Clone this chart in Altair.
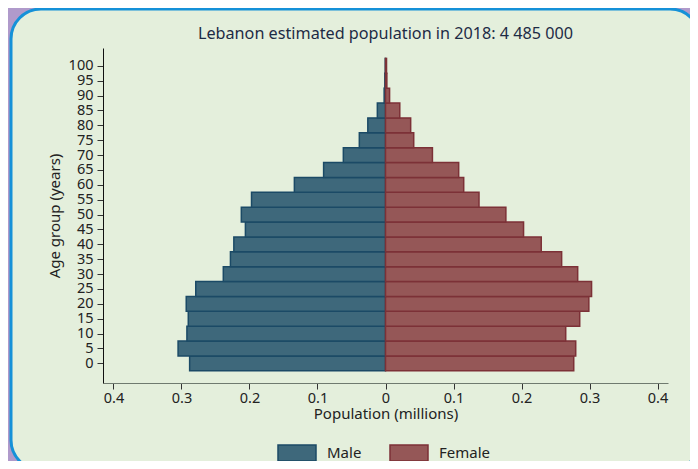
import altair as alt
import pandas as pd

ages = list(range(0, 101, 5))
male = [0.288, 0.305, 0.292, 0.290, 0.293, 0.279, 0.2385, 0.228, 0.223, 0.206,
        0.212, 0.197, 0.134, 0.091, 0.062, 0.0385, 0.026, 0.012, 0.002, 0.001, 0.0004]
female = [0.2768, 0.2797, 0.265, 0.2856, 0.299, 0.303, 0.2826, 0.259, 0.229, 0.203,
          0.177, 0.1375, 0.115, 0.1076, 0.069, 0.0415, 0.037, 0.021, 0.006, 0.002, 0.0015]
sexes = ["Male", "Female"]
x_ticks = [-0.4, -0.3, -0.2, -0.1, 0.0, 0.1, 0.2, 0.3, 0.4]
title_text = "Lebanon estimated population in 2018: 4 485 000"

rows = []
for a, m, f in zip(ages, male, female):
    rows.append({"sex": "Male", "age": a, "lo": a - 2.5, "hi": a + 2.5, "value": -m, "zero": 0})
    rows.append({"sex": "Female", "age": a, "lo": a - 2.5, "hi": a + 2.5, "value": f, "zero": 0})
df = pd.DataFrame(rows)

FONT = "Noto Sans"
TXT = "#222222"

legend = alt.Legend(
    title=None, orient="none", direction="horizontal",
    legendX=174, legendY=385,
    symbolType="M-1,-0.42H1V0.42H-1Z", symbolSize=1444, symbolStrokeWidth=1.5,
    symbolOpacity=1,
    labelFont=FONT, labelFontSize=15, labelColor=TXT, labelOffset=10,
    columnPadding=25, zindex=2,
)

bg = alt.Chart(pd.DataFrame({"d": [0]})).mark_rect(
    fill="#e4efdc", stroke="#1591d8", strokeWidth=3, cornerRadius=30
).encode(
    x=alt.value(-92), x2=alt.value(597), y=alt.value(-39), y2=alt.value(422)
)

title = alt.Chart(pd.DataFrame({"t": [title_text]})).mark_text(
    font=FONT, fontSize=16.2, color="#1d2b45", align="center", baseline="alphabetic"
).encode(x=alt.value(282.5), y=alt.value(-9), text="t:N")

bars = alt.Chart(df).mark_rect(strokeWidth=1.5, opacity=1).encode(
    x=alt.X("value:Q",
            scale=alt.Scale(domain=[-0.4154, 0.4154], nice=False, zero=False),
            axis=alt.Axis(values=x_ticks, labelExpr="format(abs(datum.value), '.1~f')",
                          title="Population (millions)", grid=False, tickSize=6,
                          labelPadding=2, titlePadding=2, domainColor="#6f7a6f",
                          tickColor="#333333", zindex=1)),
    x2="zero:Q",
    y=alt.Y("lo:Q",
            scale=alt.Scale(domain=[-6.6, 106], nice=False, zero=False),
            axis=alt.Axis(values=ages, title="Age group (years)", grid=False,
                          tickSize=6, labelPadding=4, titlePadding=6,
                          domainColor="#111111", tickColor="#333333", zindex=1)),
    y2="hi:Q",
    fill=alt.Fill("sex:N", scale=alt.Scale(domain=sexes, range=["#3e687b", "#955757"]),
                  legend=legend),
    stroke=alt.Stroke("sex:N", scale=alt.Scale(domain=sexes, range=["#1b4a66", "#7c3137"]),
                      legend=legend),
)

chart = alt.layer(bg, bars, title).properties(
    width=565, height=335,
    padding={"left": 95, "top": 40, "right": 22, "bottom": 78},
    autosize=alt.AutoSizeParams(type="none"),
    background="#b09acb",
).configure_axis(
    labelFont=FONT, titleFont=FONT, labelFontSize=14.5, titleFontSize=15,
    labelColor=TXT, titleColor=TXT, titleFontWeight="normal",
).configure_view(stroke=None)

chart.save("out.html", embed_options={"renderer": "svg", "actions": False})
